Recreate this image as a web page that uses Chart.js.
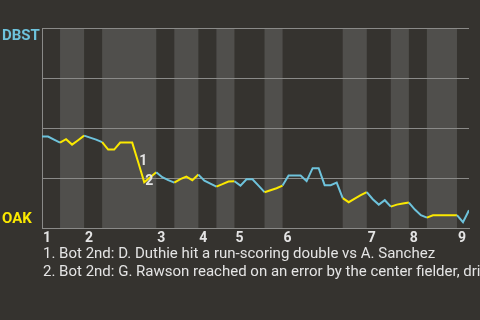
<!DOCTYPE html>
<html><head><meta charset="utf-8">
<script src="https://cdn.jsdelivr.net/npm/chart.js@4/dist/chart.umd.min.js"></script>
<style>html,body{margin:0;padding:0;background:#35332f;overflow:hidden}#wrap{width:480px;height:320px;position:relative}</style>
</head><body><div id="wrap"><canvas id="c" width="480" height="320"></canvas></div>
<script>
const awayTeam = 'DBST';
const homeTeam = 'OAK';
// DBST win probability (%) after each event
const winProb = [
  45.7,45.7,44.2,42.7,44.4,41.7,43.9,46.2,45.2,44.2,
  42.9,39.2,39.2,42.7,42.7,42.7,32.9,22.9,25.4,27.9,
  25.4,23.9,22.7,24.4,25.7,23.9,26.7,23.7,22.2,20.7,
  21.9,23.2,23.4,21.2,24.4,24.4,21.2,17.9,18.9,19.9,
  21.2,26.2,26.2,26.2,23.4,29.9,29.9,21.4,21.4,22.7,
  14.9,12.9,14.7,16.4,17.9,14.4,11.7,13.9,10.7,11.7,
  12.2,12.7,9.2,6.4,5.2,6.4,6.4,6.4,6.4,6.4,
  2.9,8.9
];
// event index where each half-inning begins (top 1st, bot 1st, top 2nd, ...)
const halfInningStarts = [0,3,7,10,19,22,26,29,32,37,40,50,54,58,61,64,69];
const inningLabels = ['1','2','3','4','5','6','7','8','9'];
const noteEvents = [16,17];
const noteMarks = ['1','2'];
const notes = [
  '1. Bot 2nd: D. Duthie hit a run-scoring double vs A. Sanchez',
  '2. Bot 2nd: G. Rawson reached on an error by the center fielder, driving in a run'
];
const yTicks = [0,25,50,75,100];

const BLUE = '#6ec3dc', YELLOW = '#fbe900', BG = '#35332f', BAND = '#504f4c', GRID = '#8a8a88', TEXT = '#e4e4e4';
const lastIdx = winProb.length - 1;
const halfOf = i => { let h = 0; for (let k = 0; k < halfInningStarts.length; k++) if (i >= halfInningStarts[k]) h = k; return h; };

const deco = {
  id: 'deco',
  beforeDraw(chart) {
    const {ctx, chartArea: a, scales: {x}} = chart;
    ctx.save();
    ctx.fillStyle = BG; ctx.fillRect(0, 0, chart.width, chart.height);
    ctx.fillStyle = BAND;
    for (let h = 1; h < halfInningStarts.length; h += 2) {
      const s = x.getPixelForValue(halfInningStarts[h]);
      const e = x.getPixelForValue(h + 1 < halfInningStarts.length ? halfInningStarts[h + 1] : lastIdx);
      ctx.fillRect(s, a.top, e - s, a.bottom - a.top);
    }
    ctx.restore();
  },
  afterDraw(chart) {
    const {ctx, chartArea: a, scales: {x, y}} = chart;
    ctx.save();
    ctx.font = 'bold 15px Roboto';
    ctx.textAlign = 'left';
    ctx.fillStyle = BLUE; ctx.textBaseline = 'top';
    ctx.fillText(awayTeam, 2, y.getPixelForValue(100) + 1);
    ctx.fillStyle = YELLOW; ctx.textBaseline = 'bottom';
    ctx.fillText(homeTeam, 2, y.getPixelForValue(0) - 1);
    // inning labels
    ctx.font = 'bold 14px Roboto';
    ctx.fillStyle = TEXT; ctx.textBaseline = 'alphabetic';
    for (let i = 0; i < inningLabels.length; i++) {
      ctx.fillText(inningLabels[i], x.getPixelForValue(halfInningStarts[i * 2]) + 1, a.bottom + 14);
    }
    // note marks on the line
    ctx.font = 'bold 14px Roboto';
    ctx.textBaseline = 'middle';
    for (let i = 0; i < noteEvents.length; i++) {
      ctx.fillText(noteMarks[i], x.getPixelForValue(noteEvents[i]) + 1, y.getPixelForValue(winProb[noteEvents[i]]) - 1);
    }
    // notes
    ctx.font = '15px Roboto';
    ctx.textBaseline = 'alphabetic';
    for (let i = 0; i < notes.length; i++) {
      ctx.fillText(notes[i], 43, a.bottom + 30 + i * 18);
    }
    ctx.restore();
  }
};

new Chart(document.getElementById('c'), {
  type: 'line',
  data: {
    datasets: [{
      data: winProb.map((v, i) => ({x: i, y: v})),
      borderWidth: 2,
      pointRadius: 0,
      tension: 0,
      fill: false,
      borderColor: BLUE,
      segment: { borderColor: c => (halfOf(c.p0DataIndex) % 2 === 0 ? BLUE : YELLOW) }
    }]
  },
  options: {
    responsive: false,
    devicePixelRatio: 1,
    animation: false,
    events: [],
    layout: { padding: { left: 42, top: 28, right: 11, bottom: 92 } },
    plugins: { legend: { display: false }, tooltip: { enabled: false } },
    scales: {
      x: {
        type: 'linear', min: 0, max: lastIdx,
        ticks: { display: false }, grid: { display: false, drawTicks: false },
        border: { display: true, color: GRID, width: 1 },
        afterFit: s => { s.height = 0; }
      },
      y: {
        type: 'linear', min: 0, max: 100,
        afterBuildTicks: s => { s.ticks = yTicks.map(v => ({value: v})); },
        ticks: { display: false },
        grid: { color: GRID, lineWidth: 1, drawTicks: false },
        border: { display: true, color: GRID, width: 1 },
        afterFit: s => { s.width = 0; }
      }
    }
  },
  plugins: [deco]
});
</script>
</body></html>
